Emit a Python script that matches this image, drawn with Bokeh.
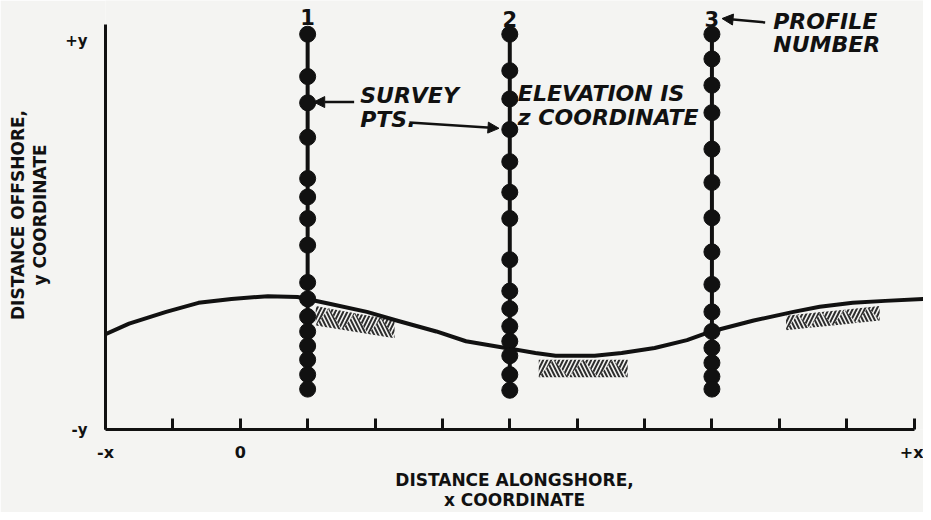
import numpy as np
from bokeh.plotting import figure
from bokeh.models import ColumnDataSource, FixedTicker, Range1d, Arrow, NormalHead
from bokeh.core.properties import value
from bokeh.embed import file_html
from bokeh.resources import INLINE

# ---- data (alongshore x units, offshore y units) ----
profile_x = [1, 4, 7]
profile_names = ["1", "2", "3"]
profile1_y = [10.08, 9.0, 8.33, 7.45, 6.4, 5.93, 5.38, 4.7, 3.75, 3.33, 2.88, 2.5, 2.13, 1.78, 1.4, 1.03]
profile2_y = [10.08, 9.15, 8.43, 7.65, 6.83, 6.05, 5.38, 4.33, 3.53, 3.08, 2.63, 2.25, 1.88, 1.4, 1.0]
profile3_y = [10.08, 9.45, 8.78, 8.08, 7.15, 6.3, 5.4, 4.53, 3.7, 3.0, 2.5, 2.08, 1.7, 1.35, 1.03]

shore_x = [-2.00, -1.65, -1.10, -0.62, -0.13, 0.41, 0.85, 1.34, 1.88, 2.32, 2.91, 3.35, 3.94,
           4.38, 4.68, 5.26, 5.66, 6.15, 6.63, 6.99, 7.62, 8.21, 8.60, 9.09, 9.57, 10.14]
shore_y = [2.43, 2.70, 3.00, 3.23, 3.33, 3.40, 3.38, 3.20, 3.00, 2.78, 2.50, 2.25, 2.08,
           1.95, 1.88, 1.88, 1.95, 2.08, 2.28, 2.50, 2.78, 3.00, 3.13, 3.23, 3.28, 3.33]

# hatched beach areas: x extent, top and bottom edge at each end
hatch_x0 = [1.12, 4.43, 8.10]
hatch_x1 = [2.29, 5.75, 9.49]
hatch_top0 = [3.15, 1.78, 2.90]
hatch_top1 = [2.78, 1.78, 3.15]
hatch_bot0 = [2.65, 1.33, 2.53]
hatch_bot1 = [2.33, 1.33, 2.78]
hatch_blocks = [3, 3, 4]

x_ticks = list(range(-2, 11))
x_tick_labels = {-2: "-x", 0: "0", 10: "+x"}
y_ticks = [0, 9.9]
y_tick_labels = {0: "-y", 9.9: "+y"}

INK = "#111111"
BG = "#f4f4f2"
FONT = "DejaVu Sans"

p = figure(width=923, height=512, output_backend="svg", toolbar_location=None,
           x_range=Range1d(-2, 10.14), y_range=Range1d(0, 10.94),
           min_border_left=105, min_border_right=0, min_border_top=0, min_border_bottom=81)
p.background_fill_color = BG
p.border_fill_color = BG
p.outline_line_color = None
p.grid.visible = False

# x axis
xa = p.xaxis[0]
xa.ticker = FixedTicker(ticks=x_ticks)
xa.major_label_overrides = {t: x_tick_labels.get(t, "") for t in x_ticks}
xa.bounds = (-2, 10)
xa.axis_line_width = 3
xa.axis_line_color = INK
xa.major_tick_in = 11
xa.major_tick_out = 0
xa.major_tick_line_width = 3
xa.major_tick_line_color = INK
xa.minor_tick_line_color = None
xa.major_label_standoff = 13
xa.major_label_text_font = FONT
xa.major_label_text_font_style = "bold"
xa.major_label_text_font_size = "16px"
xa.major_label_text_color = INK
xa.axis_label = "DISTANCE ALONGSHORE,\nx COORDINATE"
xa.axis_label_text_font = FONT
xa.axis_label_text_font_style = "bold"
xa.axis_label_text_font_size = "17px"
xa.axis_label_text_line_height = 1.0
xa.axis_label_text_color = INK
xa.axis_label_standoff = 5

# y axis
ya = p.yaxis[0]
ya.ticker = FixedTicker(ticks=y_ticks)
ya.major_label_overrides = y_tick_labels
ya.bounds = (0, 10.33)
ya.axis_line_width = 3
ya.axis_line_color = INK
ya.major_tick_in = 0
ya.major_tick_out = 0
ya.major_tick_line_color = None
ya.minor_tick_line_color = None
ya.major_label_standoff = 18
ya.major_label_orientation = "horizontal"
ya.major_label_text_font = FONT
ya.major_label_text_font_style = "bold"
ya.major_label_text_font_size = "15px"
ya.major_label_text_color = INK
ya.axis_label = "DISTANCE OFFSHORE,\ny COORDINATE"
ya.axis_label_text_font = FONT
ya.axis_label_text_font_style = "bold"
ya.axis_label_text_font_size = "17px"
ya.axis_label_text_line_height = 1.1
ya.axis_label_text_color = INK
ya.axis_label_standoff = 12

# hatched areas (herringbone triangles)
xs, ys, pats = [], [], []
for x0, x1, t0, t1, b0, b1, m in zip(hatch_x0, hatch_x1, hatch_top0, hatch_top1,
                                     hatch_bot0, hatch_bot1, hatch_blocks):
    w = (x1 - x0) / m
    top = lambda x: t0 + (t1 - t0) * (x - x0) / (x1 - x0)
    bot = lambda x: b0 + (b1 - b0) * (x - x0) / (x1 - x0)
    bx = [x0 + k * w for k in range(m + 1)]
    tx = [x0] + [x0 + (k + 0.5) * w for k in range(m)] + [x1]
    for k in range(m):
        xs.append([bx[k], tx[k + 1], bx[k + 1]])
        ys.append([bot(bx[k]), top(tx[k + 1]), bot(bx[k + 1])])
        pats.append("\\")
    for k in range(m + 1):
        xs.append([tx[k], bx[k], tx[k + 1]])
        ys.append([top(tx[k]), bot(bx[k]), top(tx[k + 1])])
        pats.append("/")
hsrc = ColumnDataSource(dict(xs=xs, ys=ys, pat=pats))
p.patches("xs", "ys", source=hsrc, fill_color=None, line_color=None,
          hatch_pattern="pat", hatch_color="#2e2e2e", hatch_scale=8, hatch_weight=2)

# shoreline
p.line(shore_x, shore_y, line_width=4, line_color=INK, line_join="round", line_cap="round")

# profiles and survey points
for px, py in zip(profile_x, [profile1_y, profile2_y, profile3_y]):
    p.line([px] * len(py), py, line_width=4, line_color=INK)
    p.scatter([px] * len(py), py, size=16, color=INK)

# profile numbers
p.text(x=profile_x, y=[10.52, 10.48, 10.48], text=profile_names, text_align="center",
       text_baseline="middle", text_font=value(FONT), text_font_style="bold",
       text_font_size="21px", text_color=INK)

# annotation texts
ann_text = ["SURVEY", "PTS.", "ELEVATION IS", "z COORDINATE", "PROFILE", "NUMBER"]
ann_x = [1.78, 1.78, 4.12, 4.12, 7.91, 7.91]
ann_y = [8.53, 7.90, 8.58, 7.95, 10.40, 9.83]
p.text(x=ann_x, y=ann_y, text=ann_text, text_align="left", text_baseline="middle",
       text_font=value(FONT), text_font_style="bold italic", text_font_size="22px",
       text_color=INK)

# arrows
for xs0, ys0, xe, ye in [(1.69, 8.35, 1.09, 8.35), (2.51, 7.83, 3.84, 7.68), (7.79, 10.38, 7.15, 10.48)]:
    p.add_layout(Arrow(end=NormalHead(size=11, fill_color=INK, line_color=INK),
                       x_start=xs0, y_start=ys0, x_end=xe, y_end=ye,
                       line_width=2.5, line_color=INK))

open("out.html", "w").write(file_html(p, INLINE))
